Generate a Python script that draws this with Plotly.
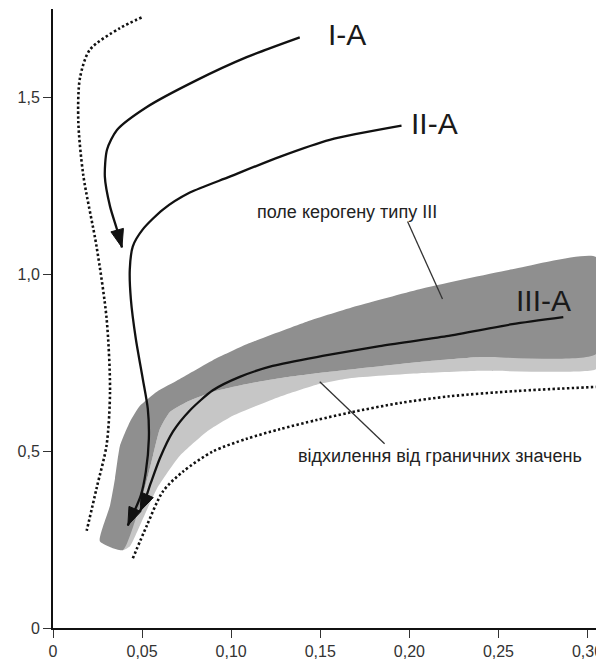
import math
import plotly.graph_objects as go

# ---------------- data ----------------
x_ticks = [0, 0.05, 0.10, 0.15, 0.20, 0.25, 0.30]
x_tick_labels = ["0", "0,05", "0,10", "0,15", "0,20", "0,25", "0,30"]
y_ticks = [0, 0.5, 1.0, 1.5]
y_tick_labels = ["0", "0,5", "1,0", "1,5"]

left_dot_x = [0.0497, 0.0376, 0.0207, 0.0151, 0.0142, 0.0170, 0.0245, 0.0301, 0.0320, 0.0301, 0.0245, 0.0189]
left_dot_y = [1.726, 1.696, 1.635, 1.554, 1.432, 1.280, 1.077, 0.874, 0.671, 0.518, 0.396, 0.275]

right_dot_x = [0.0448, 0.0527, 0.0617, 0.0729, 0.0897, 0.1087, 0.1272, 0.1480, 0.1665, 0.1945, 0.2225, 0.2601, 0.3066]
right_dot_y = [0.197, 0.290, 0.386, 0.442, 0.499, 0.535, 0.562, 0.588, 0.609, 0.636, 0.655, 0.670, 0.682]

ia_x = [0.1385, 0.1087, 0.0807, 0.0527, 0.0359, 0.0303, 0.0291, 0.0320, 0.0359, 0.0387]
ia_y = [1.670, 1.614, 1.549, 1.473, 1.408, 1.352, 1.276, 1.192, 1.127, 1.076]

iia_x = [0.1956, 0.1553, 0.1272, 0.0992, 0.0768, 0.0617, 0.0504, 0.0448, 0.0431, 0.0437, 0.0465, 0.0504, 0.0532, 0.0538, 0.0521, 0.0493, 0.0420]
iia_y = [1.420, 1.380, 1.332, 1.276, 1.231, 1.183, 1.127, 1.079, 1.014, 0.930, 0.817, 0.704, 0.620, 0.535, 0.442, 0.375, 0.290]

iiia_x = [0.2864, 0.2578, 0.2209, 0.1833, 0.1513, 0.1233, 0.1048, 0.0897, 0.0768, 0.0673, 0.0600, 0.0549, 0.0515, 0.0488]
iiia_y = [0.879, 0.859, 0.825, 0.797, 0.769, 0.741, 0.710, 0.672, 0.615, 0.555, 0.480, 0.410, 0.360, 0.330]

dark_top_x = [0.0263, 0.0320, 0.0348, 0.0376, 0.0432, 0.0488, 0.0583, 0.0712, 0.0897, 0.1087, 0.1424, 0.1704, 0.2057, 0.2578, 0.3049]
dark_top_y = [0.245, 0.346, 0.423, 0.515, 0.583, 0.628, 0.668, 0.704, 0.757, 0.802, 0.866, 0.910, 0.958, 1.014, 1.048]

mid_x = [0.0392, 0.0504, 0.0561, 0.0600, 0.0656, 0.0751, 0.0897, 0.1087, 0.1272, 0.1513, 0.2057, 0.2394, 0.3049]
mid_y = [0.220, 0.375, 0.487, 0.563, 0.611, 0.639, 0.668, 0.690, 0.706, 0.722, 0.752, 0.766, 0.775]

light_bot_x = [0.0392, 0.0432, 0.0488, 0.0583, 0.0712, 0.0863, 0.1009, 0.1272, 0.1480, 0.1665, 0.2057, 0.2394, 0.3049]
light_bot_y = [0.220, 0.231, 0.290, 0.394, 0.487, 0.555, 0.600, 0.654, 0.688, 0.706, 0.720, 0.727, 0.732]

curve_labels = ["I-A", "II-A", "III-A"]
field_label = "поле керогену типу III"
deviation_label = "відхилення від граничних значень"
field_leader_x = [0.1990, 0.2186]
field_leader_y = [1.149, 0.930]
dev_leader_x = [0.1497, 0.1861]
dev_leader_y = [0.696, 0.521]

# ---------------- layout constants ----------------
# the page body has an 8px default margin, so the figure is offset by (8, 8)
OFF = 8
W, H = 604 - OFF, 661 - OFF
ML, MR, MT, MB = 53 - OFF, 3, 9 - OFF, 31
XR = [0, 0.307]
YR = [0, 1.75]
SX = (W - ML - MR) / (XR[1] - XR[0])
SY = (H - MT - MB) / (YR[1] - YR[0])

FONT = "Liberation Sans, Arial, sans-serif"
DARK = "#8f8f8f"
LIGHT = "#c6c6c6"

fig = go.Figure()

# light band
fig.add_trace(go.Scatter(
    x=mid_x + light_bot_x[::-1], y=mid_y + light_bot_y[::-1],
    fill="toself", fillcolor=LIGHT, mode="lines",
    line=dict(width=0, color=LIGHT, shape="spline", smoothing=0.5),
    hoverinfo="skip", showlegend=False))
# dark band
fig.add_trace(go.Scatter(
    x=dark_top_x + mid_x[::-1] + dark_top_x[:1], y=dark_top_y + mid_y[::-1] + dark_top_y[:1],
    fill="toself", fillcolor=DARK, mode="lines",
    line=dict(width=0, color=DARK, shape="spline", smoothing=0.5),
    hoverinfo="skip", showlegend=False))

# dotted boundaries
for xs, ys in [(left_dot_x, left_dot_y), (right_dot_x, right_dot_y)]:
    fig.add_trace(go.Scatter(
        x=xs, y=ys, mode="lines",
        line=dict(color="#111", width=2.6, dash="2.4px,2.4px", shape="spline", smoothing=0.8),
        hoverinfo="skip", showlegend=False))

# leader lines
for xs, ys in [(field_leader_x, field_leader_y), (dev_leader_x, dev_leader_y)]:
    fig.add_trace(go.Scatter(
        x=xs, y=ys, mode="lines", line=dict(color="#333", width=1.3),
        hoverinfo="skip", showlegend=False))


def head(xs, ys, L=18.0, Wd=6.5):
    tx, ty = xs[-1] * SX, -ys[-1] * SY
    px, py = xs[-2] * SX, -ys[-2] * SY
    dx, dy = tx - px, ty - py
    n = math.hypot(dx, dy)
    ux, uy = dx / n, dy / n
    bx, by = tx - L * ux, ty - L * uy
    nx, ny = -uy, ux
    pts = [(tx, ty), (bx + Wd * nx, by + Wd * ny), (bx - Wd * nx, by - Wd * ny), (tx, ty)]
    return [p[0] / SX for p in pts], [-p[1] / SY for p in pts]


# arrows
for xs, ys in [(ia_x, ia_y), (iia_x, iia_y), (iiia_x, iiia_y)]:
    fig.add_trace(go.Scatter(
        x=xs, y=ys, mode="lines",
        line=dict(color="#111", width=2.3, shape="spline", smoothing=0.7),
        hoverinfo="skip", showlegend=False))
    hx, hy = head(xs, ys)
    fig.add_trace(go.Scatter(
        x=hx, y=hy, mode="lines", fill="toself", fillcolor="#111",
        line=dict(color="#111", width=1),
        hoverinfo="skip", showlegend=False))

ann = []
label_pos = [(0.1650, 1.679), (0.2140, 1.425), (0.2755, 0.927)]
for t, (x, y) in zip(curve_labels, label_pos):
    ann.append(dict(x=x, y=y, text=t, showarrow=False, xanchor="center", yanchor="middle",
                    font=dict(family=FONT, size=30, color="#1a1a1a")))
ann.append(dict(x=0.1648, y=1.175, text=field_label, showarrow=False, xanchor="center",
                yanchor="middle", font=dict(family=FONT, size=18, color="#222")))
ann.append(dict(x=0.2170, y=0.485, text=deviation_label, showarrow=False, xanchor="center",
                yanchor="middle", font=dict(family=FONT, size=18, color="#222")))

axis_common = dict(showgrid=False, zeroline=False, showline=True, linecolor="#111", linewidth=2,
                   ticks="outside", ticklen=8, tickwidth=1.3, tickcolor="#333",
                   ticklabeloverflow="allow",
                   tickfont=dict(family=FONT, size=16, color="#333"), fixedrange=True)

fig.update_layout(
    width=W, height=H,
    margin=dict(l=ML, r=MR, t=MT, b=MB, pad=0),
    paper_bgcolor="white", plot_bgcolor="white",
    xaxis=dict(range=XR, tickvals=x_ticks, ticktext=x_tick_labels, **axis_common),
    yaxis=dict(range=YR, tickvals=y_ticks, ticktext=y_tick_labels, **axis_common),
    annotations=ann, showlegend=False)

fig.write_html("out.html")
